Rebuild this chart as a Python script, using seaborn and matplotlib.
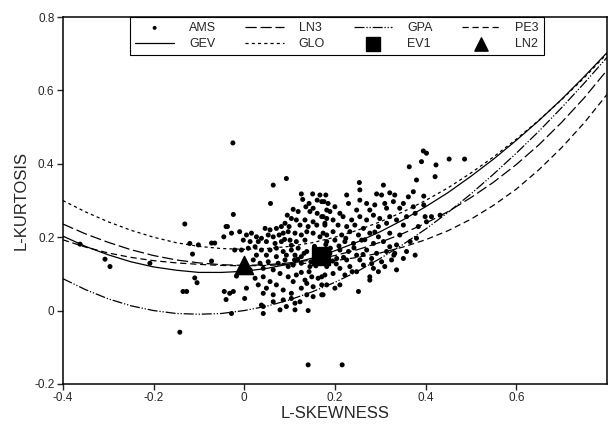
import matplotlib
matplotlib.use("Agg")
import matplotlib.pyplot as plt
import seaborn as sns

# L-moment ratio diagram: at-site AMS points and theoretical curves

skew_grid = [-0.40, -0.35, -0.30, -0.25, -0.20, -0.15, -0.10, -0.05, 0.00,
             0.05, 0.10, 0.15, 0.20, 0.25, 0.30, 0.35, 0.40, 0.45, 0.50,
             0.55, 0.60, 0.65, 0.70, 0.75, 0.80]

gev_t4 = [0.203, 0.175, 0.152, 0.133, 0.119, 0.110, 0.104, 0.104, 0.107,
          0.115, 0.127, 0.143, 0.163, 0.187, 0.215, 0.247, 0.283, 0.322,
          0.366, 0.413, 0.464, 0.518, 0.576, 0.638, 0.703]
glo_t4 = [0.300, 0.269, 0.242, 0.219, 0.200, 0.185, 0.175, 0.169, 0.167,
          0.169, 0.175, 0.185, 0.200, 0.219, 0.242, 0.269, 0.300, 0.335,
          0.375, 0.419, 0.467, 0.519, 0.575, 0.635, 0.700]
gpa_t4 = [0.087, 0.057, 0.032, 0.013, 0.000, -0.008, -0.010, -0.008, 0.000,
          0.012, 0.029, 0.051, 0.077, 0.107, 0.142, 0.180, 0.222, 0.268,
          0.318, 0.372, 0.429, 0.489, 0.553, 0.620, 0.690]
ln3_t4 = [0.236, 0.209, 0.186, 0.166, 0.150, 0.138, 0.130, 0.125, 0.123,
          0.125, 0.130, 0.138, 0.150, 0.166, 0.186, 0.210, 0.238, 0.270,
          0.308, 0.350, 0.398, 0.452, 0.513, 0.580, 0.655]
pe3_t4 = [0.193, 0.173, 0.157, 0.145, 0.136, 0.130, 0.126, 0.123, 0.122,
          0.123, 0.126, 0.130, 0.136, 0.145, 0.157, 0.173, 0.193, 0.218,
          0.249, 0.287, 0.331, 0.384, 0.444, 0.512, 0.589]

ev1_point = (0.170, 0.150)
ln2_point = (0.000, 0.123)

ams_skew = [
    -0.362, -0.307, -0.296, -0.208, -0.131, -0.120, -0.101, -0.114, -0.109, -0.104,
    -0.135, -0.127, -0.142, -0.072, -0.065, -0.072, -0.044, -0.040, -0.032, -0.045,
    -0.040, -0.037, -0.025, 0.141, 0.216, 0.364, 0.395, 0.402, 0.391, 0.423,
    0.452, 0.486, 0.421, 0.396, 0.396, 0.413, 0.432, 0.399, 0.402, 0.384,
    0.330, 0.321,
    0.093, 0.064, 0.126, 0.151, 0.167, 0.058, 0.129, 0.143, 0.161, 0.176,
    -0.024, 0.136, 0.152, 0.108, 0.119, 0.095, 0.145, 0.161, 0.182, 0.174,
    0.104, 0.115, 0.134, 0.152, 0.090, 0.071, 0.082, 0.099, 0.123, 0.141,
    0.160, 0.178, 0.057, 0.046, -0.010, -0.028, 0.005, 0.016, 0.027, 0.038,
    0.053, 0.064, 0.077, 0.086, 0.097, 0.112, 0.126, 0.138, 0.152, 0.167,
    0.182, -0.002, 0.013, 0.031, 0.049, 0.068, 0.082, 0.101, 0.115, 0.134,
    -0.006, -0.021, 0.009, 0.024, 0.038, 0.057, 0.071, 0.086, 0.104, 0.119,
    0.138, 0.027, 0.049, 0.071, 0.093, 0.112, 0.126, 0.020, 0.035, 0.053,
    0.075, 0.090, 0.108, 0.126, 0.145, 0.013, 0.042, 0.064, -0.017, 0.024,
    0.042, 0.079, 0.097, 0.115, 0.134, 0.149, 0.163, 0.178, 0.057, 0.108,
    0.138, -0.024, 0.005, 0.031, 0.049, 0.071, 0.086, 0.126, 0.152, 0.171,
    0.042, 0.064, 0.104, 0.138, 0.001, 0.038, 0.042, 0.064, 0.086, 0.104,
    0.123, 0.152, 0.171, 0.093, 0.112, -0.028, 0.042, 0.079, 0.112, 0.141,
    0.254, 0.307, 0.380, 0.180, 0.226, 0.255, 0.292, 0.303, 0.321, 0.332,
    0.362, 0.373, 0.171, 0.185, 0.200, 0.230, 0.255, 0.270, 0.288, 0.310,
    0.329, 0.351, 0.248, 0.277, 0.314, 0.343, 0.373, 0.189, 0.211, 0.171,
    0.182, 0.196, 0.218, 0.237, 0.255, 0.270, 0.285, 0.299, 0.321, 0.336,
    0.358, 0.377, 0.178, 0.207, 0.226, 0.244, 0.263, 0.296, 0.314, 0.351,
    0.174, 0.196, 0.215, 0.233, 0.252, 0.277, 0.296, 0.321, 0.343, 0.182,
    0.200, 0.222, 0.241, 0.259, 0.285, 0.307, 0.336, 0.366, 0.380, 0.171,
    0.189, 0.211, 0.230, 0.248, 0.270, 0.292, 0.314, 0.332, 0.358, 0.178,
    0.204, 0.226, 0.255, 0.281, 0.303, 0.325, 0.351, 0.377, 0.182, 0.211,
    0.233, 0.263, 0.285, 0.310, 0.336, 0.196, 0.222, 0.248, 0.277, 0.296,
    0.171, 0.200, 0.211, 0.277, 0.174, 0.252, 0.182, 0.160, 0.175, 0.185,
    0.165, 0.190, 0.155, 0.180, 0.195,
    0.118, 0.132, 0.147, 0.104, 0.089, 0.209, 0.224, 0.242, 0.266, 0.288,
    0.219, 0.203, 0.238, 0.262, 0.281, 0.158, 0.143, 0.126, 0.111, 0.097,
]
ams_kurt = [
    0.181, 0.140, 0.120, 0.129, 0.236, 0.183, 0.179, 0.154, 0.089, 0.076,
    0.052, 0.052, -0.059, 0.184, 0.184, 0.135, 0.052, 0.030, 0.047, 0.201,
    0.229, 0.229, 0.457, -0.148, -0.148, 0.392, 0.435, 0.429, 0.406, 0.397,
    0.413, 0.413, 0.365, 0.312, 0.288, 0.256, 0.260, 0.256, 0.242, 0.229,
    0.151, 0.174,
    0.360, 0.342, 0.318, 0.318, 0.315, 0.292, 0.303, 0.292, 0.301, 0.297,
    0.262, 0.283, 0.279, 0.276, 0.270, 0.260, 0.270, 0.265, 0.274, 0.256,
    0.251, 0.247, 0.247, 0.242, 0.238, 0.224, 0.229, 0.229, 0.233, 0.229,
    0.233, 0.238, 0.220, 0.224, 0.215, 0.211, 0.206, 0.211, 0.201, 0.197,
    0.206, 0.201, 0.206, 0.211, 0.215, 0.211, 0.206, 0.215, 0.211, 0.201,
    0.206, 0.192, 0.188, 0.188, 0.188, 0.183, 0.188, 0.192, 0.188, 0.192,
    0.165, 0.165, 0.170, 0.174, 0.165, 0.165, 0.170, 0.161, 0.165, 0.170,
    0.161, 0.151, 0.151, 0.147, 0.151, 0.151, 0.147, 0.138, 0.129, 0.133,
    0.129, 0.138, 0.124, 0.129, 0.120, 0.111, 0.115, 0.111, 0.094, 0.088,
    0.092, 0.101, 0.092, 0.097, 0.083, 0.092, 0.088, 0.097, 0.079, 0.079,
    0.074, 0.052, 0.061, 0.070, 0.061, 0.070, 0.056, 0.061, 0.065, 0.070,
    0.047, 0.043, 0.047, 0.043, 0.033, 0.015, 0.011, 0.024, 0.029, 0.033,
    0.024, 0.038, 0.043, 0.011, 0.020, -0.008, -0.008, 0.002, 0.002, 0.000,
    0.349, 0.342, 0.356, 0.315, 0.315, 0.329, 0.318, 0.315, 0.321, 0.315,
    0.310, 0.324, 0.297, 0.292, 0.283, 0.292, 0.301, 0.292, 0.288, 0.292,
    0.297, 0.292, 0.274, 0.274, 0.279, 0.279, 0.283, 0.270, 0.265, 0.256,
    0.251, 0.247, 0.256, 0.247, 0.256, 0.247, 0.260, 0.251, 0.256, 0.247,
    0.256, 0.265, 0.233, 0.233, 0.229, 0.233, 0.224, 0.229, 0.238, 0.233,
    0.211, 0.215, 0.206, 0.215, 0.206, 0.211, 0.201, 0.211, 0.206, 0.188,
    0.192, 0.188, 0.183, 0.192, 0.183, 0.188, 0.179, 0.188, 0.197, 0.165,
    0.156, 0.165, 0.161, 0.151, 0.165, 0.156, 0.161, 0.156, 0.161, 0.138,
    0.142, 0.138, 0.138, 0.142, 0.133, 0.138, 0.142, 0.151, 0.120, 0.115,
    0.120, 0.124, 0.115, 0.120, 0.111, 0.101, 0.097, 0.106, 0.092, 0.106,
    0.092, 0.061, 0.070, 0.083, 0.043, 0.052, 0.070, 0.150, 0.160, 0.145,
    0.135, 0.170, 0.175, 0.180, 0.135,
    0.140, 0.156, 0.133, 0.178, 0.194, 0.176, 0.197, 0.171, 0.193, 0.214,
    0.145, 0.127, 0.106, 0.153, 0.128, 0.122, 0.106, 0.104, 0.138, 0.120,
]

sns.set_style("ticks")
plt.rcParams['font.family'] = ['Liberation Sans', 'DejaVu Sans']

fig, ax = plt.subplots(figsize=(6.1, 4.28), dpi=100)
fig.subplots_adjust(left=0.103, right=0.995, top=0.960, bottom=0.103)

sns.scatterplot(x=ams_skew, y=ams_kurt, ax=ax, color='black', s=13,
                edgecolor='none', label='AMS', zorder=3)

curves = [
    ('GEV', gev_t4, '-'),
    ('LN3', ln3_t4, (0, (9, 3))),
    ('GLO', glo_t4, (0, (2.5, 2.5))),
    ('GPA', gpa_t4, (0, (8, 1.5, 1, 1.5, 1, 1.5))),
    ('PE3', pe3_t4, (0, (5, 3))),
]
for name, vals, ls in curves:
    sns.lineplot(x=skew_grid, y=vals, ax=ax, color='black', lw=0.9,
                 label=name, sort=False, estimator=None)
    ax.lines[-1].set_linestyle(ls)

sns.scatterplot(x=[ev1_point[0]], y=[ev1_point[1]], ax=ax, marker='s', s=150,
                color='black', edgecolor='black', label='EV1', zorder=4)
sns.scatterplot(x=[ln2_point[0]], y=[ln2_point[1]], ax=ax, marker='^', s=170,
                color='black', edgecolor='black', label='LN2', zorder=4)

ax.set_xlim(-0.4, 0.8)
ax.set_ylim(-0.2, 0.8)
ax.set_xticks([-0.4, -0.2, 0, 0.2, 0.4, 0.6])
ax.set_xticklabels(['-0.4', '-0.2', '0', '0.2', '0.4', '0.6'])
ax.set_yticks([-0.2, 0, 0.2, 0.4, 0.6, 0.8])
ax.set_yticklabels(['-0.2', '0', '0.2', '0.4', '0.6', '0.8'])
ax.tick_params(direction='out', length=4, width=1, labelsize=8.5, pad=2)
for sp in ax.spines.values():
    sp.set_linewidth(1.1)
    sp.set_color('black')

ax.set_xlabel('L-SKEWNESS', fontsize=12, labelpad=1)
ax.set_ylabel('L-KURTOSIS', fontsize=12, labelpad=4)

handles, labels = ax.get_legend_handles_labels()
lookup = dict(zip(labels, handles))
order = ['AMS', 'GEV', 'LN3', 'GLO', 'GPA', 'EV1', 'PE3', 'LN2']
leg = ax.legend([lookup[k] for k in order], order, ncol=4, loc='upper center',
                bbox_to_anchor=(0.504, 1.0), borderaxespad=0, fontsize=9,
                handlelength=3.1, handletextpad=1.2, columnspacing=2.3,
                labelspacing=0.35, fancybox=False, framealpha=1,
                edgecolor='black', borderpad=0.4)
leg.get_frame().set_linewidth(0.8)
for h, name in zip(leg.legend_handles, order):
    if name in ('EV1', 'LN2'):
        h.set_sizes([90])
    elif name == 'AMS':
        h.set_sizes([8])

fig.savefig('out.png', dpi=100)
